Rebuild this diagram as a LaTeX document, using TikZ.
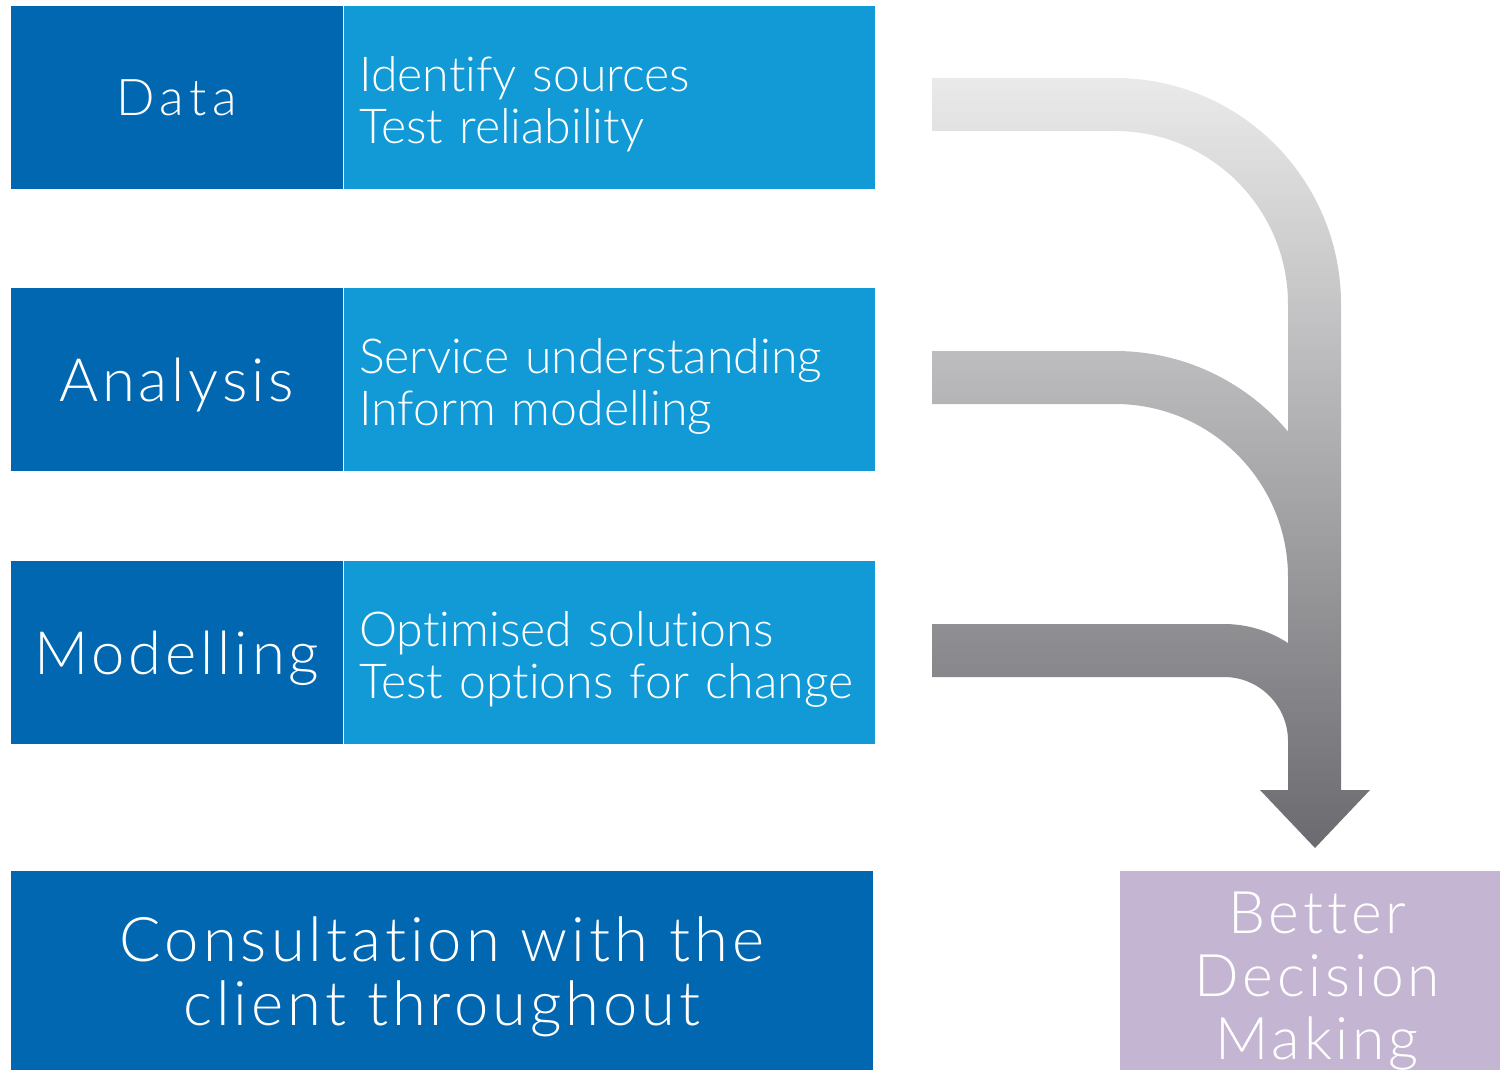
\documentclass[tikz,border=0pt]{standalone}
\usepackage{fontspec}
\setmainfont{Lato}[UprightFont={* Light}, Ligatures=NoCommon]
\newfontfamily\spaced{Lato}[UprightFont={* Light}, Ligatures=NoCommon, LetterSpace=6.5]
\newfontfamily\widespaced{Lato}[UprightFont={* Light}, Ligatures=NoCommon, LetterSpace=11]
\usetikzlibrary{positioning}
\definecolor{stagedark}{HTML}{0067B0}
\definecolor{stagelight}{HTML}{119AD6}
\definecolor{outcome}{HTML}{C4B6D3}
\definecolor{flowtop}{HTML}{EAEAEA}
\definecolor{flowbot}{HTML}{6B6A6F}

\begin{document}
\begin{tikzpicture}[x=0.01cm, y=-0.01cm,
    stage/.style={fill=stagedark, text=white, anchor=north west, inner sep=0pt, minimum width=3.32cm, minimum height=1.83cm, text depth=0pt, font=\spaced\fontsize{17}{20}\selectfont},
    note/.style={fill=stagelight, text=white, inner xsep=0.15cm, inner ysep=0pt, text width=5cm, minimum height=1.83cm, align=left, text depth=13pt, font=\fontsize{13.7}{14.8}\selectfont},
    wide/.style={fill=stagedark, text=white, anchor=north west, inner sep=0pt, minimum width=8.62cm, minimum height=2cm, align=center, text depth=-5.3pt, font=\spaced\fontsize{17.5}{18.2}\selectfont},
    result/.style={fill=outcome, text=white, anchor=north west, inner xsep=0pt, inner ysep=0.21cm, minimum width=3.95cm, minimum height=2cm, text width=3.95cm, align=center, font=\spaced\fontsize{16.7}{18}\selectfont}
]
\useasboundingbox (0,0) rectangle (1500,1070);

\node[stage, font=\widespaced\fontsize{14.4}{17}\selectfont] (data) at (10,5) {Data};
\node[note, right=0pt of data] (datanote) {Identify sources\\Test reliability};
\node[stage] (analysis) at (10,287) {Analysis};
\node[note, right=0pt of analysis] (analysisnote) {Service understanding\\Inform modelling};
\node[stage] (modelling) at (10,560) {Modelling};
\node[note, right=0pt of modelling] (modellingnote) {Optimised solutions\\Test options for change};

\node[wide] (consult) at (10,870) {Consultation with the\\client throughout};
\node[result] (decision) at (1119,870) {Better\\Decision\\Making};

\begin{scope}
\clip (932,78) -- (1115,78) .. controls (1239.8,78) and (1341,179.2) .. (1341,304)
      -- (1341,790) -- (1288,790) -- (1288,304)
      .. controls (1288,208.5) and (1210.5,131) .. (1115,131) -- (932,131) -- cycle
      (932,351) -- (1115,351) .. controls (1239.8,351) and (1341,452.2) .. (1341,577)
      -- (1341,790) -- (1288,790) -- (1288,577)
      .. controls (1288,481.5) and (1210.5,404) .. (1115,404) -- (932,404) -- cycle
      (932,624) -- (1224,624) .. controls (1288.6,624) and (1341,676.4) .. (1341,741)
      -- (1341,790) -- (1288,790) -- (1288,741)
      .. controls (1288,705.7) and (1259.3,677) .. (1224,677) -- (932,677) -- cycle
      (1260,790) -- (1370,790) -- (1315,848) -- cycle;
\shade[top color=flowtop, bottom color=flowbot] (920,78) rectangle (1380,848);
\end{scope}
\end{tikzpicture}
\end{document}
